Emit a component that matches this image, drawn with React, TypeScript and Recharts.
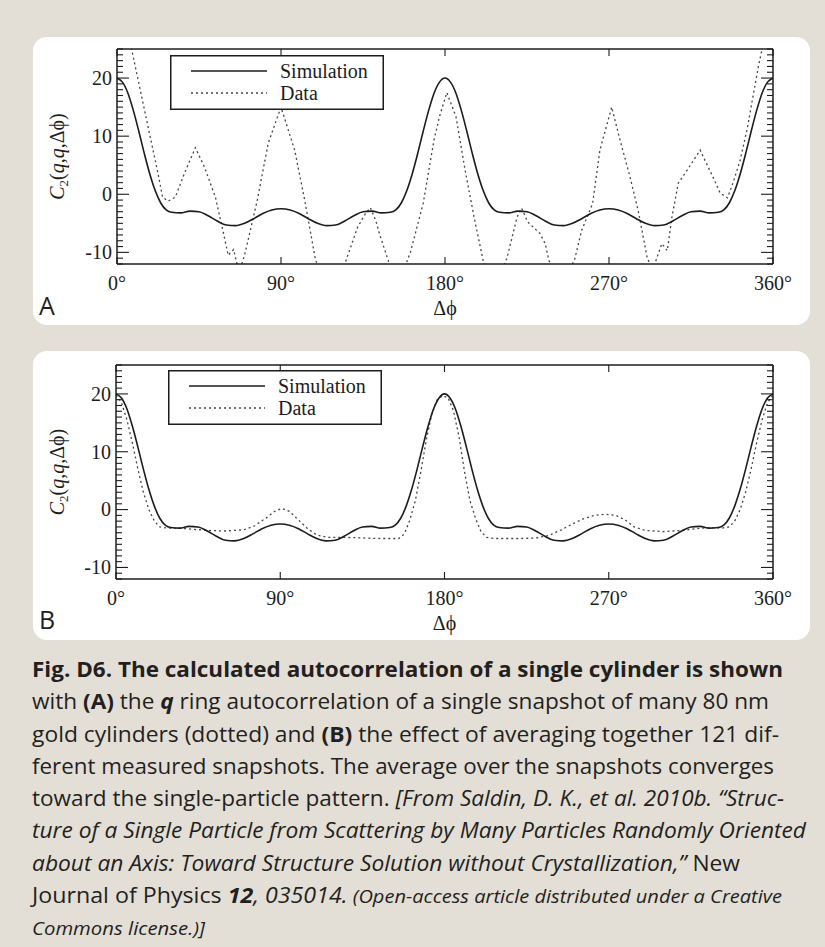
import React from 'react';
import { ComposedChart, Line, XAxis, YAxis, Legend } from 'recharts';

// ---------- data ----------
const simAngles = [
  0, 3, 6, 9, 12, 15, 18, 21, 24, 27, 30, 35, 40, 45, 50, 55, 60, 65, 70, 75, 80, 85, 90, 95, 100, 105, 110, 115,
  120, 125, 130, 135, 140, 145, 150, 153, 156, 159, 162, 165, 168, 171, 174, 177, 180, 183, 186, 189, 192, 195,
  198, 201, 204, 207, 210, 215, 220, 225, 230, 235, 240, 245, 250, 255, 260, 265, 270, 275, 280, 285, 290, 295,
  300, 305, 310, 315, 320, 325, 330, 333, 336, 339, 342, 345, 348, 351, 354, 357, 360,
];
const simValues = [
  20.0, 19.3, 17.4, 14.4, 10.8, 7.0, 3.5, 0.6, -1.5, -2.7, -3.1, -3.2, -2.9, -3.0, -3.7, -4.6, -5.3, -5.4, -5.0,
  -4.2, -3.3, -2.7, -2.5, -2.7, -3.3, -4.2, -5.0, -5.4, -5.3, -4.6, -3.7, -3.0, -2.9, -3.2, -3.1, -2.7, -1.5, 0.6,
  3.5, 7.0, 10.8, 14.4, 17.4, 19.3, 20.0, 19.3, 17.4, 14.4, 10.8, 7.0, 3.5, 0.6, -1.5, -2.7, -3.1, -3.2, -2.9,
  -3.0, -3.7, -4.6, -5.3, -5.4, -5.0, -4.2, -3.3, -2.7, -2.5, -2.7, -3.3, -4.2, -5.0, -5.4, -5.3, -4.6, -3.7, -3.0,
  -2.9, -3.2, -3.1, -2.7, -1.5, 0.6, 3.5, 7.0, 10.8, 14.4, 17.4, 19.3, 20.0,
];

const dataAAngles = [
  0, 4, 8, 14, 18, 22.5, 25, 28, 32, 37, 43, 48, 54, 58.5, 61, 64, 67, 70, 77, 83, 90, 97.5, 103, 109, 117, 125,
  132, 136, 139, 142, 144, 149.5, 155, 161, 168, 174, 177, 181, 186, 191, 196, 201, 207, 214, 219.5, 222, 225.5,
  232, 235, 237, 244, 251, 255, 261, 265, 271.5, 276, 281.5, 286, 291, 294, 299, 302, 304.5, 308, 313, 320, 327,
  331, 335, 338, 342, 346, 349, 352, 354, 360,
];
const dataAValues = [
  37, 31, 25, 16.1, 10.2, 3.6, -0.5, -1.2, -0.5, 3.6, 8, 4.7, -0.5, -6.8, -10.5, -9.5, -13.5, -10.5, -1, 8.8, 15,
  7.6, -1, -11.4, -16, -12, -5.7, -3.5, -2.3, -4.5, -6.8, -12, -15, -10, -1.6, 9.4, 13.4, 17.5, 13.4, 4.2, -4,
  -11.5, -16, -11, -4, -2.4, -4.8, -6.7, -8.5, -11.4, -15, -11.4, -6.2, -1.6, 7.6, 15, 9.4, 3, -2.8, -11, -13, -8.5,
  -9.7, -4, 1.9, 4.2, 7.6, 3, 0.2, -0.6, 1.9, 5.9, 11.5, 16.8, 22, 25, 35,
];

const dataBAngles = [
  0, 3, 6, 9, 12, 15, 18, 21, 24, 28, 35, 42, 50, 60, 70, 76, 82, 87, 91, 95, 100, 105, 110, 116, 125, 135, 145,
  155, 158, 161, 164, 167, 170, 173, 176, 179, 182, 185, 188, 191, 194, 197, 200, 203, 207, 215, 222, 230, 237, 244,
  250, 256, 262, 268, 274, 279, 284, 290, 300, 310, 318, 326, 332, 336, 339, 342, 345, 348, 351, 354, 357, 360,
];
const dataBValues = [
  19.8, 18.5, 15.5, 11.5, 7, 3, 0, -2, -3, -3.2, -3.2, -3.4, -3.6, -3.7, -3.5, -2.8, -1.5, -0.3, 0.2, -0.3, -1.8,
  -3.3, -4.4, -4.8, -4.8, -4.9, -5, -5, -4.2, -1.8, 1.5, 6.5, 12, 16.5, 19, 19.7, 19.3, 17, 12.5, 6.5, 1.5, -1.5,
  -3.8, -4.8, -5, -5, -5, -4.9, -4.5, -3.5, -2.5, -1.6, -1, -0.8, -1, -1.8, -3, -3.6, -3.8, -3.6, -3.3, -3.1, -3.2,
  -3, -2, 0, 3, 7, 11.5, 15.5, 18.5, 19.8,
];

const xTicks = [0, 90, 180, 270, 360];
const yMajorTicks = [-10, 0, 10, 20];
const yAllTicks = [
  -12, -11, -10, -9, -8, -7, -6, -5, -4, -3, -2, -1, 0, 1, 2, 3, 4, 5, 6, 7, 8, 9, 10, 11, 12, 13, 14, 15, 16, 17,
  18, 19, 20, 21, 22, 23, 24, 25,
];
const xDomain = [0, 360];
const yDomain = [-12, 25];
const legendLabels = ['Simulation', 'Data'];
const panelLetters = ['A', 'B'];

type Seg = [string, string];
const captionLines: Seg[][] = [
  [['b', 'Fig. D6. The calculated autocorrelation of a single cylinder is shown']],
  [['r', 'with '], ['b', '(A)'], ['r', ' the '], ['bi', 'q'], ['r', ' ring autocorrelation of a single snapshot of many 80 nm']],
  [['r', 'gold cylinders (dotted) and '], ['b', '(B)'], ['r', ' the effect of averaging together 121 dif-']],
  [['r', 'ferent measured snapshots. The average over the snapshots converges']],
  [['r', 'toward the single-particle pattern. '], ['i', '[From Saldin, D. K., et al. 2010b. \u201cStruc-']],
  [['i', 'ture of a Single Particle from Scattering by Many Particles Randomly Oriented']],
  [['i', 'about an Axis: Toward Structure Solution without Crystallization,\u201d'], ['r', ' New']],
  [['r', 'Journal of Physics '], ['bi', '12'], ['i', ', 035014.'], ['si', ' (Open-access article distributed under a Creative']],
  [['si', 'Commons license.)]']],
];
const captionLineWidths = [751, 737, 747, 742, 752, 774, 708, 750, 173];

const simData = simAngles.map((a, i) => ({ a, v: simValues[i] }));
const dataA = dataAAngles.map((a, i) => ({ a, v: dataAValues[i] }));
const dataB = dataBAngles.map((a, i) => ({ a, v: dataBValues[i] }));

// ---------- styling ----------
const INK = '#1c1c1c';
const SERIF = '"Liberation Serif", "Times New Roman", serif';
const SANS = '"Open Sans", "Noto Sans", sans-serif';
const BG = '#e3dfd7';
const PHI = '\u0394\u03d5';

function LeftTick(props: any) {
  const { x, y, payload } = props;
  const v = payload.value;
  const major = yMajorTicks.includes(v);
  return (
    <g>
      <line x1={x} y1={y} x2={x + (major ? 12 : 6)} y2={y} stroke={INK} strokeWidth={1.1} />
      {major && (
        <text x={x - 5} y={y} dy="0.34em" textAnchor="end" fontFamily={SERIF} fontSize={20} fill={INK}>
          {String(v)}
        </text>
      )}
    </g>
  );
}

function RightTick(props: any) {
  const { x, y, payload } = props;
  const major = yMajorTicks.includes(payload.value);
  return <line x1={x} y1={y} x2={x - (major ? 12 : 6)} y2={y} stroke={INK} strokeWidth={1.1} />;
}

function BottomTick(props: any) {
  const { x, y, payload } = props;
  return (
    <g>
      <line x1={x} y1={y} x2={x} y2={y - 7} stroke={INK} strokeWidth={1.1} />
      <text x={x} y={y + 26} textAnchor="middle" fontFamily={SERIF} fontSize={20} fill={INK}>
        {`${payload.value}\u00b0`}
      </text>
    </g>
  );
}

function TopTick(props: any) {
  const { x, y } = props;
  return <line x1={x} y1={y} x2={x} y2={y + 7} stroke={INK} strokeWidth={1.1} />;
}

function XTitle(props: any) {
  const vb = props.viewBox || { x: 0, y: 0, width: 0, height: 0 };
  return (
    <text x={vb.x + vb.width / 2} y={vb.y + 51} textAnchor="middle" fontFamily={SERIF} fontSize={20} fill={INK}>
      {PHI}
    </text>
  );
}

function YTitle(props: any) {
  const vb = props.viewBox || { x: 0, y: 0, width: 0, height: 0 };
  const cx = vb.x + 31;
  const cy = vb.y + vb.height / 2;
  return (
    <text
      x={cx}
      y={cy}
      transform={`rotate(-90, ${cx}, ${cy})`}
      textAnchor="middle"
      fontFamily={SERIF}
      fontSize={20}
      fill={INK}
    >
      <tspan fontStyle="italic">C</tspan>
      <tspan fontSize={13} dy={4}>2</tspan>
      <tspan dy={-4}>(</tspan>
      <tspan fontStyle="italic">q</tspan>
      <tspan>,</tspan>
      <tspan fontStyle="italic">q</tspan>
      <tspan>{`,${PHI})`}</tspan>
    </text>
  );
}

function LegendBox() {
  return (
    <svg width={214} height={55} style={{ display: 'block' }}>
      <rect x={0.75} y={0.75} width={212.5} height={53.5} fill="#fff" stroke={INK} strokeWidth={1.5} />
      <line x1={21} y1={16} x2={97} y2={16} stroke={INK} strokeWidth={1.6} />
      <line x1={21} y1={38} x2={97} y2={38} stroke="#444" strokeWidth={1.3} strokeDasharray="2 3" />
      <text x={110} y={23} fontFamily={SERIF} fontSize={20} fill={INK}>{legendLabels[0]}</text>
      <text x={110} y={45} fontFamily={SERIF} fontSize={20} fill={INK}>{legendLabels[1]}</text>
    </svg>
  );
}

function Panel(props: { data: any[]; height: number; topH: number; leftW: number; legendLeft: number; legendTop: number }) {
  const { data, height, topH, leftW, legendLeft, legendTop } = props;
  return (
    <ComposedChart width={777} height={height} margin={{ top: 0, right: 0, bottom: 0, left: 0 }}>
      <XAxis
        xAxisId="bottom"
        dataKey="a"
        type="number"
        domain={xDomain}
        ticks={xTicks}
        interval={0}
        allowDataOverflow
        height={61}
        tickSize={0}
        tickMargin={0}
        tickLine={false}
        axisLine={{ stroke: INK, strokeWidth: 1.5 }}
        tick={<BottomTick />}
        label={<XTitle />}
      />
      <XAxis
        xAxisId="top"
        orientation="top"
        dataKey="a"
        type="number"
        domain={xDomain}
        ticks={xTicks}
        interval={0}
        allowDataOverflow
        height={topH}
        tickSize={0}
        tickMargin={0}
        tickLine={false}
        axisLine={{ stroke: INK, strokeWidth: 1.5 }}
        tick={<TopTick />}
      />
      <YAxis
        yAxisId="left"
        type="number"
        domain={yDomain}
        ticks={yAllTicks}
        interval={0}
        allowDataOverflow
        width={leftW}
        tickSize={0}
        tickMargin={0}
        tickLine={false}
        axisLine={{ stroke: INK, strokeWidth: 1.5 }}
        tick={<LeftTick />}
        label={<YTitle />}
      />
      <YAxis
        yAxisId="right"
        orientation="right"
        type="number"
        domain={yDomain}
        ticks={yAllTicks}
        interval={0}
        allowDataOverflow
        width={37}
        tickSize={0}
        tickMargin={0}
        tickLine={false}
        axisLine={{ stroke: INK, strokeWidth: 1.5 }}
        tick={<RightTick />}
      />
      <Line
        xAxisId="bottom"
        yAxisId="left"
        data={data}
        dataKey="v"
        type="linear"
        stroke="#444"
        strokeWidth={1.3}
        strokeDasharray="2 3"
        dot={false}
        activeDot={false}
        isAnimationActive={false}
      />
      <Line
        xAxisId="bottom"
        yAxisId="left"
        data={simData}
        dataKey="v"
        type="monotone"
        stroke={INK}
        strokeWidth={1.6}
        dot={false}
        activeDot={false}
        isAnimationActive={false}
      />
      <Legend
        layout="horizontal"
        verticalAlign="middle"
        align="center"
        width={214}
        content={<LegendBox />}
        wrapperStyle={{ left: legendLeft, top: legendTop, width: 214, height: 55 }}
      />
    </ComposedChart>
  );
}

function styleOf(s: string) {
  return {
    fontWeight: s === 'b' || s === 'bi' ? 700 : 400,
    fontStyle: s === 'i' || s === 'bi' || s === 'si' ? 'italic' : 'normal',
    fontSize: s === 'si' ? 19 : 22,
  } as const;
}

export default function App() {
  return (
    <div style={{ position: 'absolute', left: 0, top: 0, width: 825, height: 947, background: BG, overflow: 'hidden' }}>
      <div style={{ position: 'absolute', left: 33, top: 37, width: 777, height: 288, background: '#fff', borderRadius: 14 }} />
      <div style={{ position: 'absolute', left: 33, top: 351, width: 777, height: 289, background: '#fff', borderRadius: 14 }} />
      <div style={{ position: 'absolute', left: 33, top: 37 }}>
        <Panel data={dataA} height={288} topH={12} leftW={84} legendLeft={137} legendTop={18} />
      </div>
      <div style={{ position: 'absolute', left: 33, top: 351 }}>
        <Panel data={dataB} height={289} topH={14} leftW={83} legendLeft={135} legendTop={19} />
      </div>
      <svg width={825} height={947} style={{ position: 'absolute', left: 0, top: 0, pointerEvents: 'none' }}>
        <text x={39} y={315} fontFamily={SANS} fontSize={25} fill="#231f20">{panelLetters[0]}</text>
        <text x={39} y={629} fontFamily={SANS} fontSize={25} fill="#231f20">{panelLetters[1]}</text>
        {captionLines.map((line, i) => (
          <text
            key={i}
            x={32}
            y={677 + i * 32.25}
            textLength={captionLineWidths[i]}
            lengthAdjust="spacingAndGlyphs"
            fontFamily={SANS}
            fill="#231f20"
            style={{ whiteSpace: 'pre' }}
          >
            {line.map((seg, j) => {
              const st = styleOf(seg[0]);
              return (
                <tspan key={j} fontWeight={st.fontWeight} fontStyle={st.fontStyle} fontSize={st.fontSize}>
                  {seg[1]}
                </tspan>
              );
            })}
          </text>
        ))}
      </svg>
    </div>
  );
}
